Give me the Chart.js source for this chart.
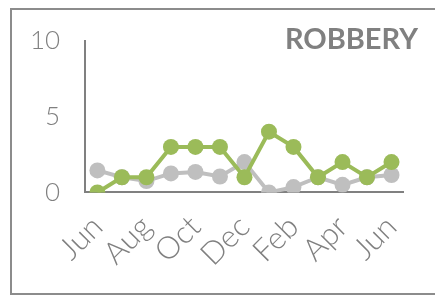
<!DOCTYPE html>
<html>
<head>
<meta charset="utf-8">
<script src="https://cdn.jsdelivr.net/npm/chart.js@4"></script>
<style>
  body { margin: 0; background: #fff; }
  #wrap { position: relative; width: 435px; height: 295px; overflow: hidden; }
  #frame { position: absolute; left: 10px; top: 8px; width: 440px; height: 283px; border: 2px solid #8c8c8c; }
  #title { position: absolute; right: 17px; top: 20px; font: bold 29px Lato, sans-serif; color: #808080; }
  canvas { position: absolute; left: 0; top: 0; }
</style>
</head>
<body>
<div id="wrap">
  <div id="frame"></div>
  <canvas id="chart" width="435" height="295"></canvas>
  <div id="title">ROBBERY</div>
</div>
<script>
let months = ["Jun", "Jul", "Aug", "Sep", "Oct", "Nov", "Dec", "Jan", "Feb", "Mar", "Apr", "May", "Jun"];
let robberyCurrent = [0, 1, 1, 3, 3, 3, 1, 4, 3, 1, 2, 1, 2];
let robberyPrevious = [1.45, 1, 0.75, 1.25, 1.35, 1.05, 2, 0, 0.35, 1, 0.5, 1, 1.15];
let yTicks = [0, 5, 10];

let green = "#9bbb59";
let grey = "#bfbfbf";
let axisGrey = "#808080";

let ctx = document.getElementById("chart").getContext("2d");

new Chart(ctx, {
    type: "line",
    data: {
        labels: months,
        datasets: [
            {
                label: "Robbery",
                data: robberyCurrent,
                borderColor: green,
                backgroundColor: green,
                borderWidth: 4,
                pointRadius: 8,
                pointBorderWidth: 0,
                tension: 0
            },
            {
                label: "Robbery (previous)",
                data: robberyPrevious,
                borderColor: grey,
                backgroundColor: grey,
                borderWidth: 4,
                pointRadius: 8,
                pointBorderWidth: 0,
                tension: 0
            }
        ]
    },
    options: {
        responsive: false,
        animation: false,
        layout: { padding: { left: 5, right: 31, top: 40, bottom: 6 } },
        plugins: {
            legend: { display: false },
            tooltip: { enabled: false }
        },
        scales: {
            x: {
                offset: true,
                afterFit: function (axis) {
                    // let the first rotated label run under the y labels
                    axis.paddingLeft = 0;
                },
                grid: { display: false, drawTicks: false },
                border: { display: true, color: axisGrey, width: 2 },
                ticks: {
                    autoSkip: false,
                    maxRotation: 45,
                    minRotation: 45,
                    padding: 16,
                    color: axisGrey,
                    font: { family: "Lato", size: 31, weight: 300 },
                    callback: function (value, index) {
                        return index % 2 === 0 ? months[index] : "";
                    }
                }
            },
            y: {
                min: 0,
                max: 10,
                afterBuildTicks: function (axis) {
                    axis.ticks = yTicks.map(v => ({ value: v }));
                },
                grid: { display: false, drawTicks: false },
                border: { display: true, color: axisGrey, width: 2 },
                ticks: {
                    padding: 25,
                    color: axisGrey,
                    font: { family: "Lato", size: 26, weight: 300 }
                }
            }
        }
    }
});
</script>
</body>
</html>
